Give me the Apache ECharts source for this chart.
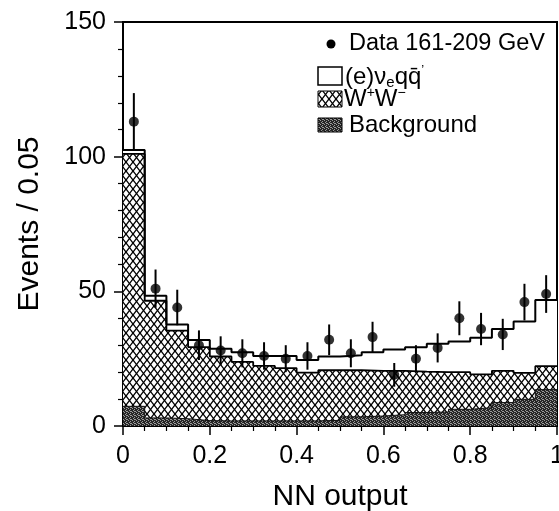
<!DOCTYPE html>
<html>
<head>
<meta charset="utf-8">
<script src="https://cdn.jsdelivr.net/npm/echarts@6/dist/echarts.min.js"></script>
<style>
html,body{margin:0;padding:0;background:#fff;}
#chart{width:559px;height:511px;}
</style>
</head>
<body>
<div id="chart"></div>
<script>
// ---- data ----
const binEdges = [0, 0.05, 0.1, 0.15, 0.2, 0.25, 0.3, 0.35, 0.4, 0.45, 0.5, 0.55, 0.6, 0.65, 0.7, 0.75, 0.8, 0.85, 0.9, 0.95, 1.0];
const dataCounts = [113, 51, 44, 30, 28, 27, 26, 25, 26, 32, 27, 33, 19, 25, 29, 40, 36, 34, 46, 49];
const dataErrors = [10.6, 7.1, 6.6, 5.5, 5.3, 5.2, 5.1, 5.0, 5.1, 5.7, 5.2, 5.7, 4.4, 5.0, 5.4, 6.3, 6.0, 5.8, 6.8, 7.0];
const background = [7.3, 3.0, 2.7, 2.0, 1.9, 1.9, 1.9, 1.9, 1.9, 2.1, 3.4, 3.7, 4.2, 5.0, 5.2, 6.2, 6.8, 8.7, 9.9, 13.5];
const wwPairs = [93.7, 43.5, 32.7, 27.3, 23.9, 21.9, 20.4, 19.6, 17.9, 18.6, 17.3, 16.8, 16.3, 15.2, 14.8, 13.8, 12.4, 11.8, 9.8, 8.7];
const enuqq = [1.5, 1.9, 2.3, 2.6, 2.9, 3.6, 3.7, 4.5, 4.7, 5.1, 5.6, 6.9, 7.9, 9.0, 10.5, 11.4, 13.6, 15.5, 19.1, 24.6];
const xTicks = [0, 0.2, 0.4, 0.6, 0.8, 1];
const yTicks = [0, 50, 100, 150];

// ---- derived stacks ----
const stackBg = background.slice();
const stackWW = background.map((v, i) => v + wwPairs[i]);
const stackAll = stackWW.map((v, i) => v + enuqq[i]);
function stepPts(vals) {
  const d = [];
  for (let i = 0; i < vals.length; i++) d.push([binEdges[i], vals[i]]);
  d.push([binEdges[vals.length], vals[vals.length - 1]]);
  return d;
}
const centers = dataCounts.map((v, i) => (binEdges[i] + binEdges[i + 1]) / 2);

// ---- patterns ----
function hatchCanvas() {
  const w = 7, h = 9;
  const c = document.createElement('canvas'); c.width = w; c.height = h;
  const g = c.getContext('2d');
  g.fillStyle = '#fff'; g.fillRect(0, 0, w, h);
  g.strokeStyle = '#000'; g.lineWidth = 1.35;
  for (let k = -1; k <= 1; k++) {
    g.beginPath(); g.moveTo(k * w - w, -h); g.lineTo(k * w + 2 * w, 2 * h); g.stroke();
    g.beginPath(); g.moveTo(k * w + 2 * w, -h); g.lineTo(k * w - w, 2 * h); g.stroke();
  }
  return c;
}
function stippleCanvas() {
  const c = document.createElement('canvas'); c.width = 4; c.height = 4;
  const g = c.getContext('2d');
  g.fillStyle = '#262626'; g.fillRect(0, 0, 4, 4);
  g.fillStyle = '#9a9a9a';
  [[0, 0], [2, 1], [1, 2], [3, 3], [2, 3]].forEach(p => g.fillRect(p[0], p[1], 1, 1));
  return c;
}
const hatchPat = { image: hatchCanvas(), repeat: 'repeat' };
const stipPat = { image: stippleCanvas(), repeat: 'repeat' };

const FONT = '"Liberation Sans", Arial, Helvetica, sans-serif';
const chart = echarts.init(document.getElementById('chart'), null, { renderer: 'canvas' });

const legendX = 318;
const option = {
  animation: false,
  backgroundColor: '#fff',
  grid: { left: 123, right: 2, top: 22, bottom: 85, show: true, borderColor: '#000', borderWidth: 2, backgroundColor: 'transparent', containLabel: false, outerBoundsMode: 'none' },
  xAxis: {
    type: 'value', min: xTicks[0], max: xTicks[xTicks.length - 1], interval: 0.2,
    name: 'NN output', nameLocation: 'middle', nameGap: 56,
    nameTextStyle: { fontFamily: FONT, fontSize: 30, color: '#000' },
    axisLine: { show: true, onZero: false, lineStyle: { color: '#000', width: 2 } },
    axisTick: { show: true, inside: false, length: 9, lineStyle: { color: '#000', width: 1.5 } },
    minorTick: { show: true, splitNumber: 4, length: 5, lineStyle: { color: '#000', width: 1.2 } },
    axisLabel: { fontFamily: FONT, fontSize: 25, color: '#000', margin: 18 },
    splitLine: { show: false }, minorSplitLine: { show: false }
  },
  yAxis: {
    type: 'value', min: yTicks[0], max: yTicks[yTicks.length - 1], interval: 50,
    name: 'Events / 0.05', nameLocation: 'middle', nameGap: 78, nameRotate: 90,
    nameTextStyle: { fontFamily: FONT, fontSize: 30, color: '#000' },
    axisLine: { show: true, onZero: false, lineStyle: { color: '#000', width: 2 } },
    axisTick: { show: true, inside: false, length: 9, lineStyle: { color: '#000', width: 1.5 } },
    minorTick: { show: true, splitNumber: 5, length: 5, lineStyle: { color: '#000', width: 1.2 } },
    axisLabel: { fontFamily: FONT, fontSize: 25, color: '#000', margin: 17 },
    splitLine: { show: false }, minorSplitLine: { show: false }
  },
  series: [
    { type: 'line', step: 'end', data: stepPts(stackAll), symbol: 'none', lineStyle: { width: 0, opacity: 0 }, areaStyle: { color: '#fff', opacity: 1 }, z: 1 },
    { type: 'line', step: 'end', data: stepPts(stackWW), symbol: 'none', lineStyle: { width: 0, opacity: 0 }, areaStyle: { color: hatchPat, opacity: 1 }, z: 1 },
    { type: 'line', step: 'end', data: stepPts(stackBg), symbol: 'none', lineStyle: { width: 0, opacity: 0 }, areaStyle: { color: stipPat, opacity: 1 }, z: 1 },
    { type: 'line', step: 'end', data: stepPts(stackBg), symbol: 'none', lineStyle: { color: '#111', width: 1 }, z: 3 },
    { type: 'line', step: 'end', data: stepPts(stackWW), symbol: 'none', lineStyle: { color: '#000', width: 1.8 }, z: 3 },
    { type: 'line', step: 'end', data: stepPts(stackAll), symbol: 'none', lineStyle: { color: '#000', width: 2 }, z: 3 },
    {
      type: 'custom', z: 5,
      data: dataCounts.map((v, i) => [centers[i], v, dataErrors[i]]),
      renderItem: function (params, api) {
        const x = api.value(0), y = api.value(1), e = api.value(2);
        const p1 = api.coord([x, y - e]), p2 = api.coord([x, y + e]);
        return { type: 'line', shape: { x1: p1[0], y1: p1[1], x2: p2[0], y2: p2[1] }, style: { stroke: '#000', lineWidth: 2 } };
      }
    },
    { type: 'scatter', z: 6, symbol: 'circle', symbolSize: 10, itemStyle: { color: '#000' },
      data: dataCounts.map((v, i) => [centers[i], v]) }
  ],
  graphic: [
    { type: 'circle', shape: { cx: 331, cy: 44, r: 4.5 }, style: { fill: '#000' }, z: 10 },
    { type: 'text', x: 349, y: 44, style: { text: 'Data 161-209 GeV', font: '23.5px ' + FONT, fill: '#000', verticalAlign: 'middle' }, z: 10 },
    { type: 'rect', shape: { x: legendX, y: 67, width: 24, height: 18 }, style: { fill: '#fff', stroke: '#000', lineWidth: 1.5 }, z: 10 },
    { type: 'text', x: 345, y: 77, style: {
        text: '{m|(e)ν}{s|e}{m|qq\u0304}{p|\u2019}', fill: '#000', verticalAlign: 'middle',
        rich: {
          m: { fontFamily: FONT, fontSize: 24, lineHeight: 26, verticalAlign: 'middle' },
          s: { fontFamily: FONT, fontSize: 15, lineHeight: 14, verticalAlign: 'bottom' },
          p: { fontFamily: FONT, fontSize: 13, lineHeight: 14, verticalAlign: 'top' }
        } }, z: 10 },
    { type: 'rect', shape: { x: legendX, y: 91, width: 24, height: 16 }, style: { fill: hatchPat, stroke: '#000', lineWidth: 1 }, z: 10 },
    { type: 'text', x: 344, y: 99, style: {
        text: '{m|W}{p|+}{m|W}{p|\u2212}', fill: '#000', verticalAlign: 'middle',
        rich: {
          m: { fontFamily: FONT, fontSize: 24, lineHeight: 26, verticalAlign: 'middle' },
          p: { fontFamily: FONT, fontSize: 14, lineHeight: 14, verticalAlign: 'top' }
        } }, z: 10 },
    { type: 'rect', shape: { x: legendX, y: 118, width: 24, height: 14 }, style: { fill: stipPat, stroke: '#000', lineWidth: 1 }, z: 10 },
    { type: 'text', x: 349, y: 125, style: { text: 'Background', font: '24px ' + FONT, fill: '#000', verticalAlign: 'middle' }, z: 10 }
  ]
};
chart.setOption(option);
</script>
</body>
</html>
